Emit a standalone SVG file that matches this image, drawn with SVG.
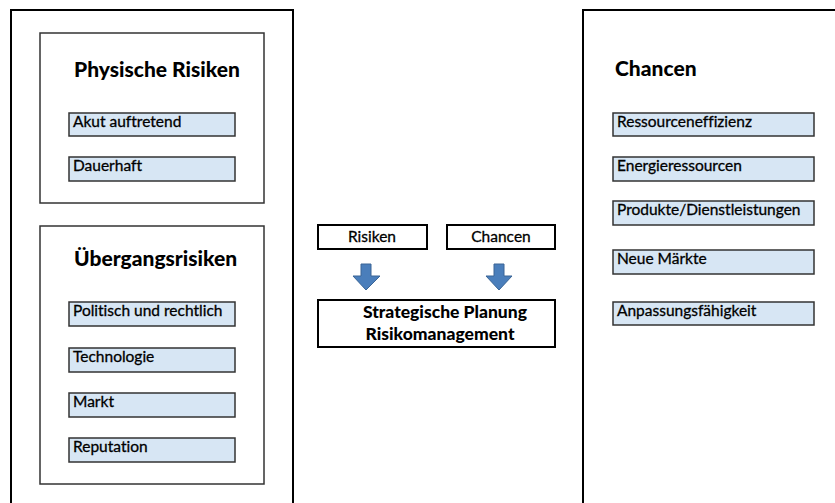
<svg xmlns="http://www.w3.org/2000/svg" width="835" height="503" viewBox="0 0 835 503">
<style>
text{font-variant-ligatures:none}
.outer{fill:#fff;stroke:#000;stroke-width:2}
.inner{fill:#fff;stroke:#333;stroke-width:1.5}
.item{fill:#d7e6f4;stroke:#333;stroke-width:1.5}
.mid{fill:#fff;stroke:#000;stroke-width:2}
.title{font-family:Lato,"Liberation Sans",sans-serif;font-weight:900;font-size:21px;fill:#000}
.lbl{font-family:Lato,"Liberation Sans",sans-serif;font-size:15.5px;fill:#000;stroke:#000;stroke-width:0.3}
.bold{font-family:Lato,"Liberation Sans",sans-serif;font-weight:900;font-size:17.5px;fill:#000}
.arrow{fill:#4a7ebb;stroke:#3a6596;stroke-width:1}
</style>
<rect width="835" height="503" fill="#fff"/>
<g id="left-panel">
<rect class="outer" x="11" y="10" width="282" height="500"/>
</g>
<g id="physische">
<rect class="inner" x="40" y="33" width="224" height="170"/>
<text class="title" x="74" y="77">Physische Risiken</text>
</g>
<g id="akut"><rect class="item" x="69" y="113" width="166" height="23"/><text class="lbl" x="73" y="127">Akut auftretend</text></g>
<g id="dauerhaft"><rect class="item" x="69" y="157" width="166" height="24"/><text class="lbl" x="73" y="171">Dauerhaft</text></g>
<g id="uebergang">
<rect class="inner" x="40" y="226" width="224" height="258"/>
<text class="title" x="74" y="266">Übergangsrisiken</text>
</g>
<g id="politisch"><rect class="item" x="69" y="302" width="166" height="24"/><text class="lbl" x="73" y="316">Politisch und rechtlich</text></g>
<g id="technologie"><rect class="item" x="69" y="348" width="166" height="24"/><text class="lbl" x="73" y="362">Technologie</text></g>
<g id="markt"><rect class="item" x="69" y="393" width="166" height="24"/><text class="lbl" x="73" y="407">Markt</text></g>
<g id="reputation"><rect class="item" x="69" y="438" width="166" height="24"/><text class="lbl" x="73" y="452">Reputation</text></g>
<g id="right-panel">
<rect class="outer" x="583" y="10" width="270" height="500"/>
<text class="title" x="615" y="76">Chancen</text>
</g>
<g id="ressource"><rect class="item" x="613" y="113" width="201" height="23"/><text class="lbl" x="617" y="127">Ressourceneffizienz</text></g>
<g id="energie"><rect class="item" x="613" y="157" width="201" height="24"/><text class="lbl" x="617" y="171">Energieressourcen</text></g>
<g id="produkte"><rect class="item" x="613" y="201" width="201" height="24"/><text class="lbl" x="617" y="215">Produkte/Dienstleistungen</text></g>
<g id="maerkte"><rect class="item" x="613" y="250" width="201" height="24"/><text class="lbl" x="617" y="264">Neue Märkte</text></g>
<g id="anpassung"><rect class="item" x="613" y="302" width="201" height="23"/><text class="lbl" x="617" y="316">Anpassungsfähigkeit</text></g>
<g id="risiken"><rect class="mid" x="318" y="225" width="109" height="24"/><text class="lbl" x="372" y="242" text-anchor="middle">Risiken</text></g>
<g id="chancen"><rect class="mid" x="447" y="225" width="108" height="24"/><text class="lbl" x="501" y="242" text-anchor="middle">Chancen</text></g>
<g id="strategie">
<rect class="mid" x="318" y="300" width="237" height="47"/>
<text class="bold" x="445" y="318" text-anchor="middle">Strategische Planung</text>
<text class="bold" x="440" y="340" text-anchor="middle">Risikomanagement</text>
</g>
<g id="connectors">
<path class="arrow" d="M361,264 H371 V276 H380 L366,290 L353,276 H361 Z"/>
<path class="arrow" d="M494,264 H504 V276 H512 L499,290 L486,276 H494 Z"/>
</g>
</svg>
